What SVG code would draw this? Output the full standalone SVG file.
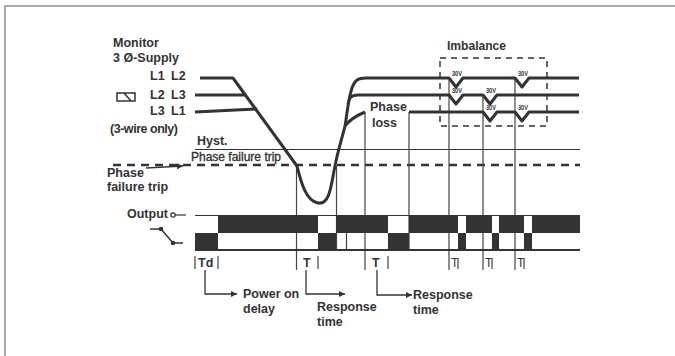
<svg xmlns="http://www.w3.org/2000/svg" width="675" height="356" viewBox="0 0 675 356">
<defs>
<style>
.t{font-family:"Liberation Sans",Arial,sans-serif;font-weight:bold;font-size:12.5px;fill:#333}
.n{font-family:"Liberation Sans",Arial,sans-serif;font-size:12px;fill:#333}
.s{font-family:"Liberation Sans",Arial,sans-serif;font-weight:bold;font-size:7.5px;fill:#333}
.w{fill:none;stroke:#333;stroke-width:3;stroke-linejoin:round;stroke-linecap:butt}
.v{fill:none;stroke:#444;stroke-width:1.2}
.thin{fill:none;stroke:#333;stroke-width:1.2}
.blk{fill:#333}
</style>
<marker id="ah" viewBox="0 0 10 10" refX="10" refY="5" markerWidth="7" markerHeight="6" orient="auto" markerUnits="userSpaceOnUse">
<path d="M0,0 L10,5 L0,10 Z" fill="#333"/>
</marker>
</defs>
<rect width="675" height="356" fill="#fff"/>
<path d="M5,356 V6 H675" fill="none" stroke="#aaa" stroke-width="2"/>

<g id="labels-left">
<text class="t" x="113" y="47">Monitor</text>
<text class="t" x="113" y="62">3 Ø-Supply</text>
<text class="t" x="150" y="80" word-spacing="3">L1 L2</text>
<text class="t" x="150" y="99" word-spacing="3">L2 L3</text>
<text class="t" x="150" y="115" word-spacing="3">L3 L1</text>
<text class="t" x="110" y="133" textLength="68">(3-wire only)</text>
<g id="relay-symbol">
<rect x="117" y="93" width="18" height="8" fill="none" stroke="#333" stroke-width="1.5"/>
<line x1="124" y1="93" x2="131" y2="101" stroke="#333" stroke-width="1.5"/>
</g>
</g>

<g id="thresholds">
<line x1="195" y1="149.5" x2="580" y2="149.5" class="thin"/>
<text class="t" x="197" y="145">Hyst.</text>
<text class="n" x="191" y="161" stroke="#333" stroke-width="0.35">Phase failure trip</text>
<line x1="113" y1="165" x2="580" y2="165" stroke="#333" stroke-width="2.5" stroke-dasharray="8,6"/>
<text class="t" x="107" y="177">Phase</text>
<text class="t" x="107" y="191">failure trip</text>
</g>

<g id="verticals">
<line class="v" x1="296.5" y1="166" x2="296.5" y2="270"/>
<line class="v" x1="336.5" y1="166" x2="336.5" y2="250"/>
<line class="v" x1="346.5" y1="233" x2="346.5" y2="250"/>
<line class="v" x1="365" y1="112" x2="365" y2="270"/>
<line class="v" x1="409" y1="112" x2="409" y2="250"/>
<line class="v" x1="449" y1="78" x2="449" y2="270"/>
<line class="v" x1="483" y1="95" x2="483" y2="270"/>
<line class="v" x1="515" y1="78" x2="515" y2="270"/>
</g>

<g id="waveforms">
<path class="w" d="M200,78 H233 L297,166 C300,178 305,201 318,203 C330,205 331,185 335,166 C338,150 343,135 345,126 C347,115 348,100 352,88 C355,80 358,78 366,78 H449 L456,87 L463,78 H515 L522,87 L529,78 H579"/>
<path class="w" d="M195,95 H245"/>
<path class="w" d="M348,104 C349,98 351,95 358,95 H449 L456,104 L463,95 H483 L490,104 L497,95 H579"/>
<path class="w" d="M195,112 L257,109"/>
<path class="w" d="M345,126 C350,119 358,115 365,112"/>
<path class="w" d="M409,112 H483 L490,121 L497,112 H515 L522,121 L529,112 H579"/>
<text class="s" x="452" y="76" textLength="10" lengthAdjust="spacingAndGlyphs">30V</text>
<text class="s" x="518" y="76" textLength="10" lengthAdjust="spacingAndGlyphs">30V</text>
<text class="s" x="452" y="93" textLength="10" lengthAdjust="spacingAndGlyphs">30V</text>
<text class="s" x="486" y="93" textLength="10" lengthAdjust="spacingAndGlyphs">30V</text>
<text class="s" x="486" y="110" textLength="10" lengthAdjust="spacingAndGlyphs">30V</text>
<text class="s" x="518" y="110" textLength="10" lengthAdjust="spacingAndGlyphs">30V</text>
<text class="t" x="370" y="111">Phase</text>
<text class="t" x="372" y="127">loss</text>
</g>

<g id="imbalance">
<rect x="440" y="58" width="107" height="68" fill="none" stroke="#333" stroke-width="1.5" stroke-dasharray="6,5"/>
<text class="t" x="447" y="50" font-size="13.5" textLength="59" lengthAdjust="spacingAndGlyphs">Imbalance</text>
</g>

<g id="output">
<text class="t" x="127" y="218" font-size="12">Output</text>
<circle cx="173" cy="215" r="2.2" fill="#fff" stroke="#333" stroke-width="1.2"/>
<line x1="175" y1="215" x2="186" y2="215" stroke="#333" stroke-width="1.2"/>
<line x1="150" y1="229" x2="161" y2="229" stroke="#333" stroke-width="1.5"/>
<line x1="161" y1="229" x2="173" y2="243" stroke="#333" stroke-width="1.5"/>
<line x1="173" y1="243" x2="183" y2="243" stroke="#333" stroke-width="1.5"/>
<circle cx="161" cy="229" r="2.3" fill="#333"/>
<circle cx="173" cy="243" r="2.3" fill="#333"/>
<line x1="195" y1="215.5" x2="580" y2="215.5" stroke="#333" stroke-width="1"/>
<g class="blk">
<rect x="218" y="216" width="100" height="17"/>
<rect x="336" y="216" width="52" height="17"/>
<rect x="409" y="216" width="49" height="17"/>
<rect x="466" y="216" width="26" height="17"/>
<rect x="499" y="216" width="25" height="17"/>
<rect x="532" y="216" width="48" height="17"/>
<rect x="195" y="233" width="23" height="17"/>
<rect x="318" y="233" width="18" height="17"/>
<rect x="388" y="233" width="21" height="17"/>
<rect x="458" y="233" width="8" height="17"/>
<rect x="492" y="233" width="7" height="17"/>
<rect x="524" y="233" width="8" height="17"/>
</g>
<line x1="195" y1="250" x2="580" y2="250" stroke="#333" stroke-width="2.2"/>
</g>

<g id="timing">
<line class="v" x1="195" y1="256" x2="195" y2="269"/>
<text class="t" x="198" y="267" font-size="12">Td</text>
<line class="v" x1="218" y1="256" x2="218" y2="269"/>
<text class="t" x="303" y="267" font-size="12">T</text>
<line class="v" x1="318" y1="256" x2="318" y2="269"/>
<text class="t" x="372" y="267" font-size="12">T</text>
<line class="v" x1="388" y1="256" x2="388" y2="269"/>
<text class="n" x="451" y="267" font-size="9">T</text>
<line class="v" x1="458" y1="258" x2="458" y2="269"/>
<text class="n" x="485" y="267" font-size="9">T</text>
<line class="v" x1="492" y1="258" x2="492" y2="269"/>
<text class="n" x="517" y="267" font-size="9">T</text>
<line class="v" x1="524" y1="258" x2="524" y2="269"/>
<text class="t" x="243" y="298">Power on</text>
<text class="t" x="243" y="313">delay</text>
<text class="t" x="317" y="311">Response</text>
<text class="t" x="317" y="326">time</text>
<text class="t" x="413" y="299">Response</text>
<text class="t" x="413" y="314">time</text>
</g>

<g id="connectors">
<path d="M146,168 L183,166" fill="none" stroke="#333" stroke-width="1.3" marker-end="url(#ah)"/>
<path d="M205,270 V294 H237" fill="none" stroke="#333" stroke-width="1.3" marker-end="url(#ah)"/>
<path d="M306,270 V294 H345" fill="none" stroke="#333" stroke-width="1.3" marker-end="url(#ah)"/>
<path d="M377,270 V295 H412" fill="none" stroke="#333" stroke-width="1.3" marker-end="url(#ah)"/>
</g>
</svg>
